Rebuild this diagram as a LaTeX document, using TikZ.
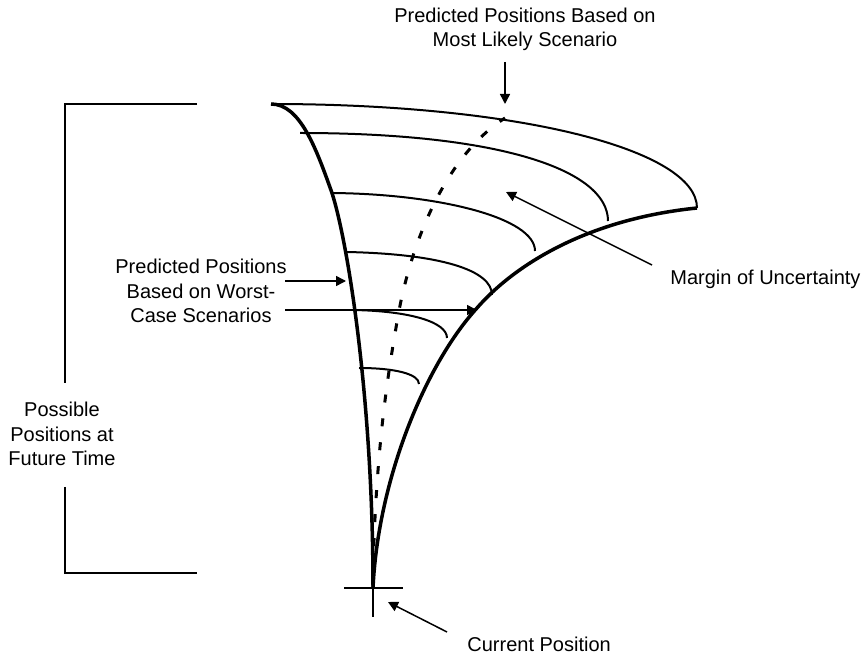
\documentclass[tikz,border=0pt]{standalone}
\usepackage{fontspec}
\setmainfont{Liberation Sans}
\usetikzlibrary{arrows.meta}
\begin{document}
\begin{tikzpicture}[x=0.5pt,y=-0.5pt,
  label/.style={inner sep=0pt,align=center,font=\fontsize{10}{12.4}\selectfont},
  boundary/.style={line width=1.75pt,line join=round},
  ring/.style={line width=1pt},
  centre/.style={line width=1.5pt,dash pattern=on 4pt off 8pt},
  pointer/.style={line width=0.75pt,-{Triangle[length=5pt,width=5pt]}},
  bracket/.style={line width=1.1pt}]
\useasboundingbox (0,0) rectangle (868,657);

% key points of the cone
\coordinate (origin) at (373,588);
\coordinate (tl) at (271,104);
\coordinate (tr) at (697,208);

% outer rim of the cone
\draw[ring] (tl) .. controls (520,104) and (697,150) .. (tr);

% intermediate time contours
\draw[ring] (300,133) .. controls (500,133) and (608,170) .. (608,221);
\draw[ring] (332,193) .. controls (440,194) and (535,218) .. (535,251);
\draw[ring] (347,252) .. controls (440,254) and (492,270) .. (492,295);
\draw[ring] (353,310) .. controls (410,311) and (447,322) .. (447,338);
\draw[ring] (359,368) .. controls (395,368) and (419,374) .. (419,384);

% worst-case boundaries
\draw[boundary] (tl) .. controls (300,104) and (316,148) .. (332,193)
                     .. controls (348,243) and (373,400) .. (origin);
\draw[boundary] (origin) .. controls (378,480) and (425,365) .. (477,308)
                         .. controls (510,270) and (580,220) .. (tr);

% most likely track
\draw[centre] (373,570) .. controls (376,460) and (385,390) .. (397,322)
                        .. controls (408,255) and (440,160) .. (505,118);

% current position marker
\coordinate (xl) at (344,588);
\coordinate (xr) at (403,588);
\coordinate (xb) at (373,617);
\draw[ring] (xl) -- (xr);
\draw[ring] (origin) -- (xb);

% bracket
\coordinate (bt1) at (197,104);
\coordinate (bt0) at (65,104);
\coordinate (bg0) at (65,383);
\coordinate (bg1) at (65,487);
\coordinate (bb0) at (65,573);
\coordinate (bb1) at (197,573);
\draw[bracket] (bt1) -- (bt0) -- (bg0);
\draw[bracket] (bg1) -- (bb0) -- (bb1);

% labels (base anchor sits on the last line)
\node[label,anchor=base] (likely) at (525,47) {Predicted Positions Based on\\Most Likely Scenario};
\node[label,anchor=base west] (margin) at (670,285) {Margin of Uncertainty};
\node[label,anchor=base] (worst) at (201,323) {Predicted Positions\\Based on Worst-\\Case Scenarios};
\node[label,anchor=base] (future) at (62,466) {Possible\\Positions at\\Future Time};
\node[label,anchor=base west] (current) at (467,652) {Current Position};

% pointers
\coordinate (a1s) at (505,62);  \coordinate (a1e) at (505,104);
\coordinate (a2s) at (652,265); \coordinate (a2e) at (506,192);
\coordinate (a3s) at (285,281); \coordinate (a3e) at (346,281);
\coordinate (a4s) at (285,310); \coordinate (a4e) at (477,310);
\coordinate (a5s) at (447,632); \coordinate (a5e) at (388,602);
\draw[pointer] (a1s) -- (a1e);
\draw[pointer] (a2s) -- (a2e);
\draw[pointer] (a3s) -- (a3e);
\draw[pointer] (a4s) -- (a4e);
\draw[pointer] (a5s) -- (a5e);
\end{tikzpicture}
\end{document}
